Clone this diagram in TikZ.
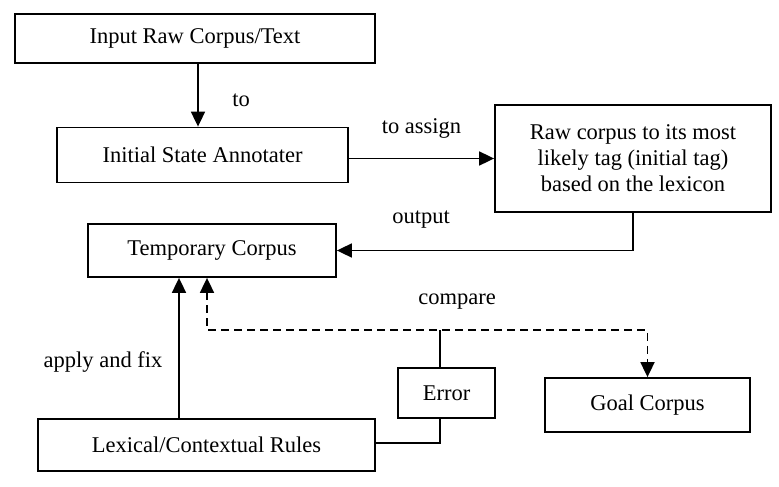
\documentclass[tikz,border=0pt]{standalone}
\usepackage{fontspec}
\setmainfont{Liberation Serif}
\usetikzlibrary{arrows.meta}
\begin{document}
\begin{tikzpicture}[x=1pt,y=-1pt,
  box/.style={draw,line width=1.8pt,inner sep=0pt,align=center,font=\fontsize{22.5}{26}\selectfont},
  lbl/.style={font=\fontsize{22.5}{26}\selectfont,inner sep=0pt},
  con/.style={line width=1.8pt,-{Triangle[width=14pt,length=15pt]}},
  dsh/.style={line width=1.8pt,dash pattern=on 8pt off 5pt,{Triangle[width=14pt,length=15pt]}-{Triangle[width=14pt,length=15pt]}}
]
\useasboundingbox (0,0) rectangle (779,487);
\node[box,minimum width=360pt,minimum height=49pt] (in) at (195,38.5) {Input Raw Corpus/Text};
\node[box,minimum width=291pt,minimum height=55pt] (ann) at (202.5,155) {Initial State Annotater};
\node[box,minimum width=276pt,minimum height=107pt] (raw) at (633,158.5) {Raw corpus to its most\\likely tag (initial tag)\\based on the lexicon};
\node[box,minimum width=248pt,minimum height=53pt] (tmp) at (212,250.5) {Temporary Corpus};
\node[box,minimum width=337pt,minimum height=52pt] (lex) at (206.5,445) {Lexical/Contextual Rules};
\node[box,minimum width=97pt,minimum height=50pt] (err) at (446.5,393) {Error};
\node[box,minimum width=205pt,minimum height=54pt] (goal) at (647.5,405) {Goal Corpus};

\coordinate (ax) at (198,0);
\coordinate (fx) at (179,0);
\coordinate (dx) at (207,0);
\coordinate (ex) at (440,0);
\coordinate (cy) at (0,330);
\coordinate (ly) at (0,443);

\draw[con] (in.south -| ax) -- (ann.north -| ax);
\draw[con] (ann.east |- raw.west) -- (raw.west);
\draw[con] (raw.south) |- (tmp.east);
\draw[con] (lex.north -| fx) -- (tmp.south -| fx);
\draw[dsh] (tmp.south -| dx) -- (dx |- cy) -- (goal.north |- cy) -- (goal.north);
\draw[line width=1.8pt] (err.north -| ex) -- (ex |- cy);
\draw[line width=1.8pt] (err.south -| ex) -- (ex |- ly) -- (lex.east |- ly);

\node[lbl] (lto) at (241,100) {to};
\node[lbl] (lassign) at (421.5,128) {to assign};
\node[lbl] (lout) at (421,220) {output};
\node[lbl] (lcmp) at (457,302) {compare};
\node[lbl] (lfix) at (103,362) {apply and fix};
\end{tikzpicture}
\end{document}
